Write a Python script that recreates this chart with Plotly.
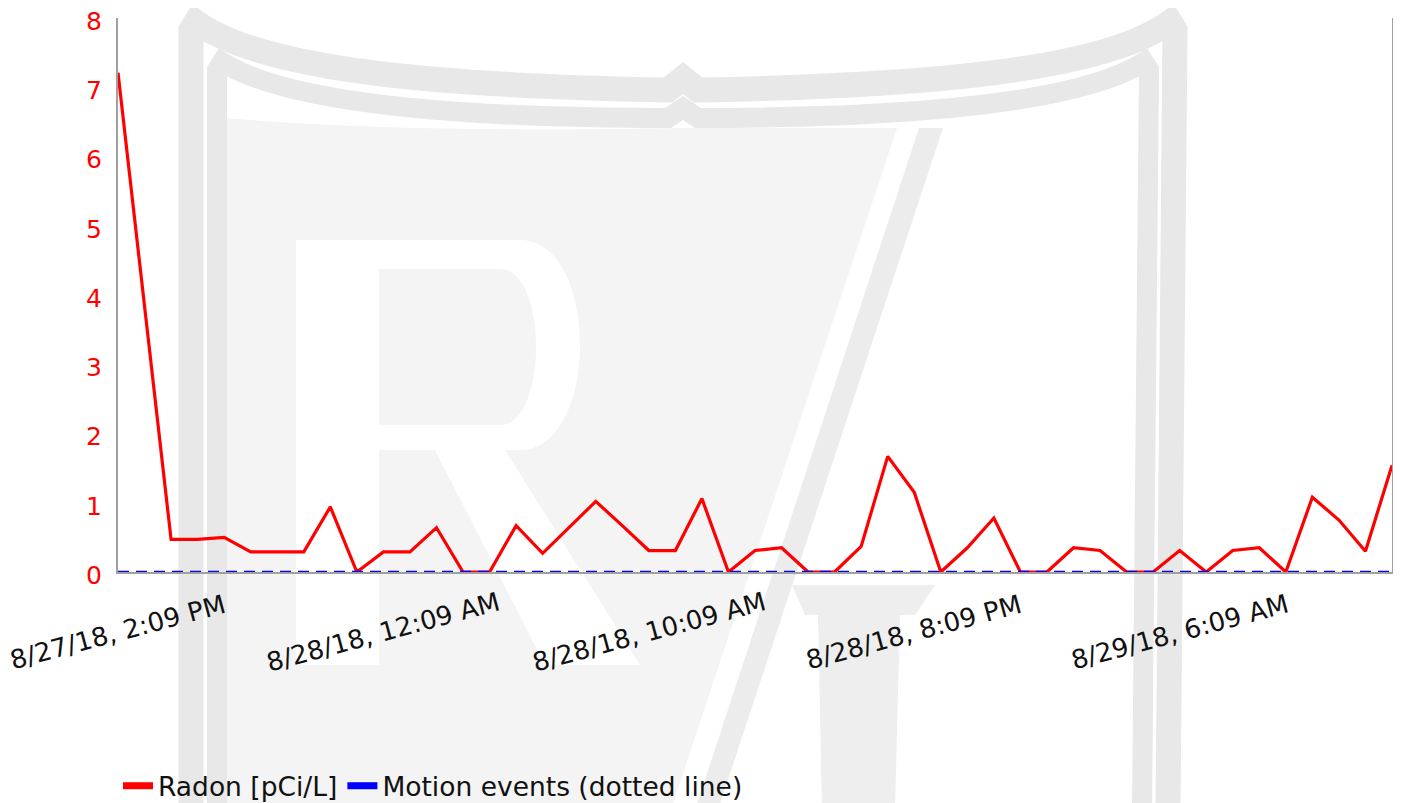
import pandas as pd
import plotly.graph_objects as go

# ---------------- data ----------------
start_time = "2018-08-27 14:09"
n_points = 49  # hourly readings
times = pd.date_range(start=start_time, periods=n_points, freq="h")

radon = [7.21, 3.84, 0.47, 0.47, 0.50, 0.29, 0.29, 0.29, 0.94, 0.0,
         0.29, 0.29, 0.64, 0.0, 0.0, 0.67, 0.27, 0.65, 1.02, 0.67,
         0.31, 0.31, 1.06, 0.0, 0.31, 0.35, 0.0, 0.0, 0.37, 1.67,
         1.15, 0.0, 0.35, 0.78, 0.0, 0.0, 0.35, 0.31, 0.0, 0.0,
         0.31, 0.0, 0.31, 0.35, 0.0, 1.08, 0.75, 0.30, 1.54]

motion = [0, 0, 0, 0, 0, 0, 0, 0, 0, 0,
          0, 0, 0, 0, 0, 0, 0, 0, 0, 0,
          0, 0, 0, 0, 0, 0, 0, 0, 0, 0,
          0, 0, 0, 0, 0, 0, 0, 0, 0, 0,
          0, 0, 0, 0, 0, 0, 0, 0, 0]

tick_times = ["2018-08-27 14:09", "2018-08-28 00:09", "2018-08-28 10:09",
              "2018-08-28 20:09", "2018-08-29 06:09"]
tick_labels = ["8/27/18, 2:09 PM", "8/28/18, 12:09 AM", "8/28/18, 10:09 AM",
               "8/28/18, 8:09 PM", "8/29/18, 6:09 AM"]

series_names = ["Radon [pCi/L]", "Motion events (dotted line)"]

# ---------------- layout constants ----------------
# the page body has an 8px default margin, so the figure is sized to fit inside it
OFF = 8
W, H = 1401 - OFF, 803 - OFF
ML, MR, MT, MB = 118 - OFF, 9, 18 - OFF, 231
PW, PH = W - ML - MR, H - MT - MB
FONT = "DejaVu Sans, Verdana, sans-serif"
AXIS_GRAY = "#a0a0a0"


def px(x, y):
    """page pixel -> paper coordinates"""
    return (x - OFF - ML) / PW, (H - MB - (y - OFF)) / PH


def path(cmds):
    out = []
    for c in cmds:
        if isinstance(c, str):
            out.append(c)
        else:
            X, Y = px(*c)
            out.append(f"{X:.5f},{Y:.5f}")
    return " ".join(out)


fig = go.Figure()

fig.add_trace(go.Scatter(x=times, y=radon, mode="lines",
                         line=dict(color="#ff0000", width=3.2),
                         showlegend=False, hoverinfo="skip"))
fig.add_trace(go.Scatter(x=times, y=motion, mode="lines",
                         line=dict(color="#0000ff", width=2.4, dash="11px,7px"),
                         showlegend=False, hoverinfo="skip"))
# legend proxies
fig.add_trace(go.Scatter(x=[None], y=[None], mode="lines", name=series_names[0],
                         line=dict(color="#ff0000", width=7)))
fig.add_trace(go.Scatter(x=[None], y=[None], mode="lines", name=series_names[1],
                         line=dict(color="#0000ff", width=7)))

# ---------------- watermark (shield logo) ----------------
shapes = []
common = dict(xref="paper", yref="paper", layer="below")
FILL = "#f4f4f4"
BAND = "#e8e8e8"
# inner light fill (left of the slash)
shapes.append(dict(type="path", fillcolor=FILL, line=dict(width=0),
                   path=path(["M", (226, 810), "L", (226, 118), "C", (380, 132), (560, 130), (683, 128),
                              "L", (897, 128), "L", (671, 810), "Z"]), **common))
# slash gray band
shapes.append(dict(type="path", fillcolor="#ececec", line=dict(width=0),
                   path=path(["M", (919, 128), "L", (943, 128), "L", (718, 810), "L", (695, 810), "Z"]),
                   **common))
# outer band
shapes.append(dict(type="path", fillcolor="rgba(0,0,0,0)", line=dict(color=BAND, width=25),
                   path=path(["M", (191, 810), "L", (191, 30), "L", (196, 22),
                              "C", (265, 72), (450, 86), (668, 90), "L", (683, 78), "L", (698, 90),
                              "C", (916, 86), (1101, 72), (1170, 22), "L", (1175, 30),
                              "L", (1168, 810)]), **common))
# inner band
shapes.append(dict(type="path", fillcolor="rgba(0,0,0,0)", line=dict(color=BAND, width=20),
                   path=path(["M", (217, 810), "L", (217, 70), "L", (222, 62),
                              "C", (290, 105), (470, 118), (668, 118), "L", (683, 108), "L", (698, 118),
                              "C", (896, 118), (1076, 105), (1144, 62), "L", (1149, 70),
                              "L", (1142, 810)]), **common))
# letter R (white, cut out of fill)
shapes.append(dict(type="path", fillcolor="#ffffff", line=dict(width=0),
                   path=path(["M", (296, 240), "L", (520, 240), "C", (600, 240), (600, 450), (520, 450),
                              "L", (505, 450), "L", (640, 665), "L", (545, 665), "L", (435, 450),
                              "L", (379, 450), "L", (379, 665), "L", (296, 665), "Z"]), **common))
shapes.append(dict(type="path", fillcolor=FILL, line=dict(width=0),
                   path=path(["M", (379, 269), "L", (500, 269), "C", (548, 269), (548, 425), (500, 425),
                              "L", (379, 425), "Z"]), **common))
# bottom "I"
shapes.append(dict(type="path", fillcolor="#eeeeee", line=dict(width=0),
                   path=path(["M", (792, 585), "L", (935, 585), "L", (915, 615), "L", (900, 615),
                              "L", (895, 810), "L", (822, 810), "L", (818, 615), "L", (805, 615), "Z"]),
                   **common))

# ---------------- rotated x tick labels ----------------
annotations = []
for t, lab in zip(tick_times, tick_labels):
    annotations.append(dict(x=t, xref="x", y=-60 / PH, yref="paper", text=lab,
                            showarrow=False, textangle=-15, xanchor="center", yanchor="middle",
                            font=dict(family=FONT, size=26, color="#111111")))

fig.update_layout(
    width=W, height=H,
    margin=dict(l=ML, r=MR, t=MT, b=MB, pad=0, autoexpand=False),
    paper_bgcolor="#ffffff", plot_bgcolor="rgba(0,0,0,0)",
    font=dict(family=FONT, size=26, color="#111111"),
    shapes=shapes, annotations=annotations,
    showlegend=True,
    legend=dict(orientation="h", x=0, xanchor="left", y=-214 / PH, yanchor="middle",
                bgcolor="rgba(0,0,0,0)", font=dict(family=FONT, size=26.5, color="#111111"),
                itemwidth=30, traceorder="normal"),
    xaxis=dict(type="date", range=[times[0], times[-1]], showgrid=False, zeroline=False,
               showline=True, linecolor=AXIS_GRAY, linewidth=2, mirror=False,
               showticklabels=False, ticks="", layer="below traces", fixedrange=True),
    yaxis=dict(range=[0, 8], dtick=1, tick0=0, showgrid=False, zeroline=False,
               showline=True, linecolor=AXIS_GRAY, linewidth=2, mirror=True,
               ticks="", ticklabelstandoff=9, ticklabeloverflow="allow", ticklabelshift=3,
               tickfont=dict(family=FONT, size=25, color="#ff0000"), fixedrange=True),
)

fig.write_html("out.html")
